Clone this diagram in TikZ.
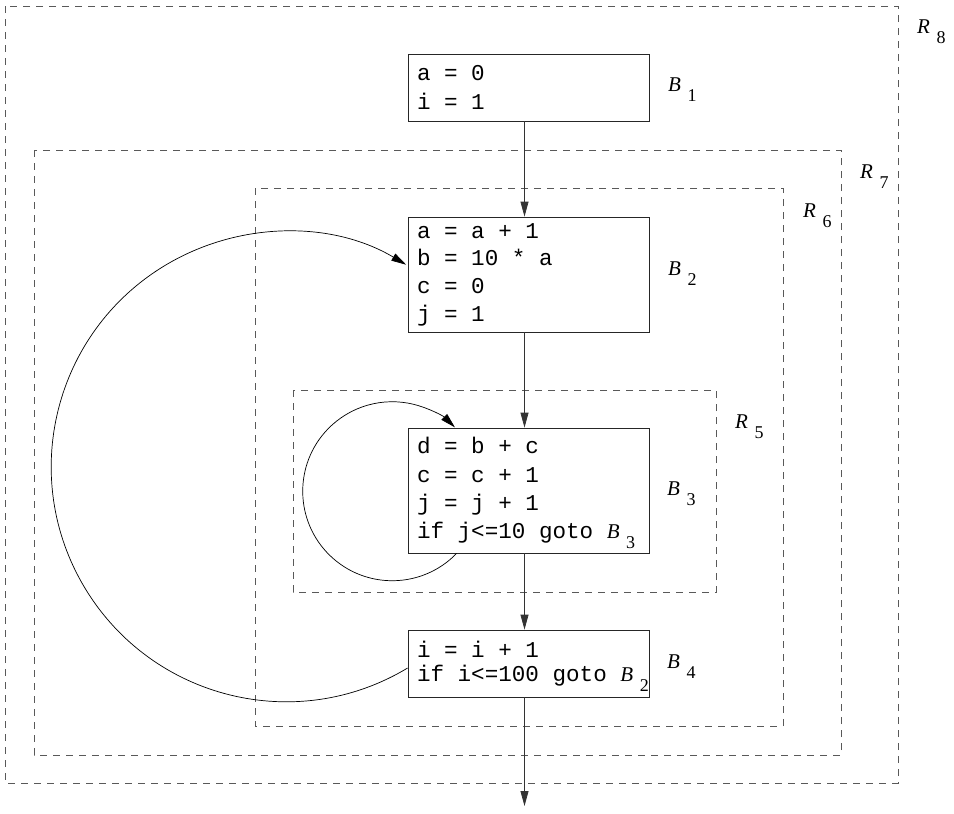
\documentclass[tikz,border=0pt]{standalone}
\usepackage{fontspec}
\setmainfont{Liberation Serif}
\setmonofont{Liberation Mono}
\usetikzlibrary{arrows.meta,calc}
\newcommand\sublab[2]{{\rmfamily\fontsize{21}{21}\selectfont\itshape #1}\hspace{6.5pt}\raisebox{-10pt}[0pt][0pt]{\rmfamily\upshape\fontsize{18}{18}\selectfont #2}}
\newcommand\mspace{\spaceskip=0.6em\relax\xspaceskip=0.6em\relax}
\begin{document}
\begin{tikzpicture}[x=1pt,y=-1pt,
  block/.style={draw=black!85, line width=0.8pt, minimum width=241pt, text width=223pt,
    inner xsep=9pt, inner ysep=0pt, anchor=center, align=left},
  region/.style={draw=black!65, line width=0.8pt, dash pattern=on 7pt off 6pt},
  lab/.style={anchor=base west, inner sep=0pt},
  flow/.style={draw=black!80, line width=0.8pt, -{Triangle[length=15pt,width=8pt]}},
  loopline/.style={draw=black, line width=0.7pt, -{Triangle[length=15pt,width=8pt]}}]
\useasboundingbox (0,0) rectangle (954,814);

% regions
\draw[region] (5,6) rectangle (898,783);
\draw[region] (34,150) rectangle (841,755);
\draw[region] (255,188) rectangle (783,726);
\draw[region] (293,390) rectangle (716,592);

\node[lab] (r8) at (917,33) {\sublab{R}{8}};
\node[lab] (r7) at (860,178) {\sublab{R}{7}};
\node[lab] (r6) at (803,217) {\sublab{R}{6}};
\node[lab] (r5) at (735,428) {\sublab{R}{5}};

% blocks
\node[block, minimum height=67pt, font=\ttfamily\fontsize{22.6}{29.4}\selectfont] (B1) at (528.5,87.5)
  {\mspace a = 0\\i = 1};
\node[block, minimum height=115pt, font=\ttfamily\fontsize{22.6}{27.7}\selectfont] (B2) at (528.5,274.5)
  {\mspace a = a + 1\\b = 10 * a\\c = 0\\j = 1};
\node[block, minimum height=125pt, font=\ttfamily\fontsize{22.6}{28.3}\selectfont] (B3) at (528.5,490.5)
  {\mspace d = b + c\\c = c + 1\\j = j + 1\\\mbox{if j<=10 goto \sublab{B}{3}}};
\node[block, minimum height=67pt, font=\ttfamily\fontsize{22.6}{23.7}\selectfont] (B4) at (528.5,663.5)
  {\mspace i = i + 1\\\mbox{if i<=100 goto \sublab{B}{2}}};

\node[lab] (l1) at (668,91.7) {\sublab{B}{1}};
\node[lab] (l2) at (668,275.7) {\sublab{B}{2}};
\node[lab] (l3) at (667,495) {\sublab{B}{3}};
\node[lab] (l4) at (667,668) {\sublab{B}{4}};

% flow
\coordinate (ax) at (524.5,0);
\coordinate (exit) at (524.5,806);
\draw[flow] (B1.south -| ax) -- (B2.north -| ax);
\draw[flow] (B2.south -| ax) -- (B3.north -| ax);
\draw[flow] (B3.south -| ax) -- (B4.north -| ax);
\draw[flow] (B4.south -| ax) -- (exit);

% loops
\draw[loopline] ($(B3.south west)+(49,0)$) arc[start angle=44, end angle=314.5, radius=89.5];
\draw[loopline] ($(B4.west)+(0,4.5)$) arc[start angle=58.9, end angle=300.7, radius=235];
\end{tikzpicture}
\end{document}
